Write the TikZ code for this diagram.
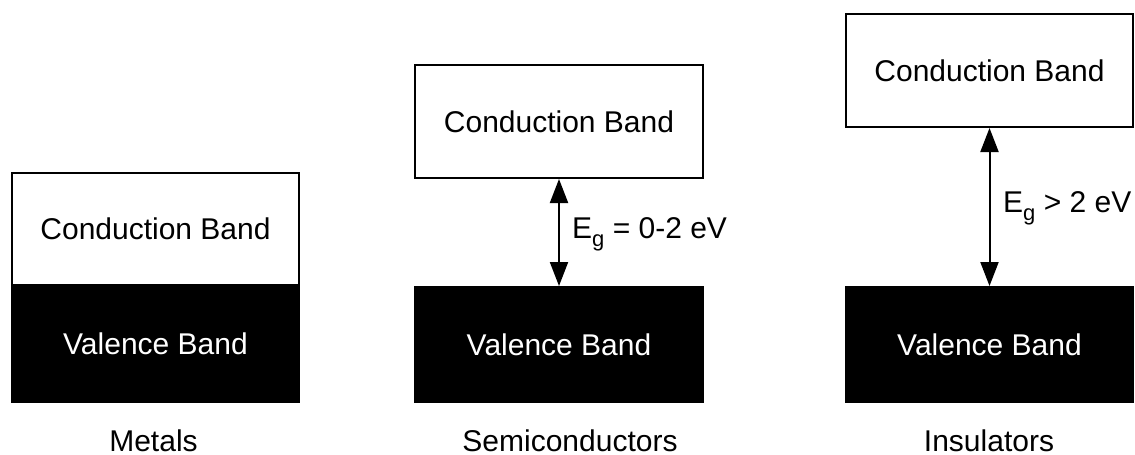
\documentclass[tikz,border=0pt]{standalone}
\usepackage{fontspec}
\setmainfont{Liberation Sans}
\usetikzlibrary{arrows.meta}
\begin{document}
\begin{tikzpicture}[x=1pt,y=-1pt,
  every node/.style={font=\fontsize{30}{36}\selectfont, inner sep=0pt},
  cband/.style={draw=black, fill=white, line width=2pt, minimum width=287pt, text=black},
  vband/.style={draw=black, fill=black, line width=2pt, minimum width=287pt, text=white},
  gaparrow/.style={line width=2pt, {Triangle[length=24pt,width=18pt]}-{Triangle[length=24pt,width=18pt]}},
  caption/.style={anchor=base}
]
\useasboundingbox[fill=white] (0,0) rectangle (1135,455);
% Metals
\node[vband, minimum height=117pt] (mv) at (155.5,343.5) {Valence Band};
\node[cband, minimum height=112pt] (mc) at (155.5,229) {Conduction Band};
\node[caption] (ml) at (153.5,451.5) {Metals};
% Semiconductors
\node[cband, minimum height=113pt, minimum width=288pt] (sc) at (559,121.5) {Conduction Band};
\node[vband, minimum height=115pt, minimum width=288pt] (sv) at (559,344.5) {Valence Band};
\draw[gaparrow] (sc.south) -- (sv.north);
\node[anchor=base west] (sg) at (572,238) {E\raisebox{-8pt}{\fontsize{22}{22}\selectfont g} = 0-2 eV};
\node[caption] (sl) at (570,451.5) {Semiconductors};
% Insulators
\node[cband, minimum height=113pt] (ic) at (989.5,70.5) {Conduction Band};
\node[vband, minimum height=115pt] (iv) at (989.5,344.5) {Valence Band};
\draw[gaparrow] (ic.south) -- (iv.north);
\node[anchor=base west] (ig) at (1003,212) {E\raisebox{-8pt}{\fontsize{22}{22}\selectfont g} > 2 eV};
\node[caption] (il) at (989,451.5) {Insulators};
\end{tikzpicture}
\end{document}
